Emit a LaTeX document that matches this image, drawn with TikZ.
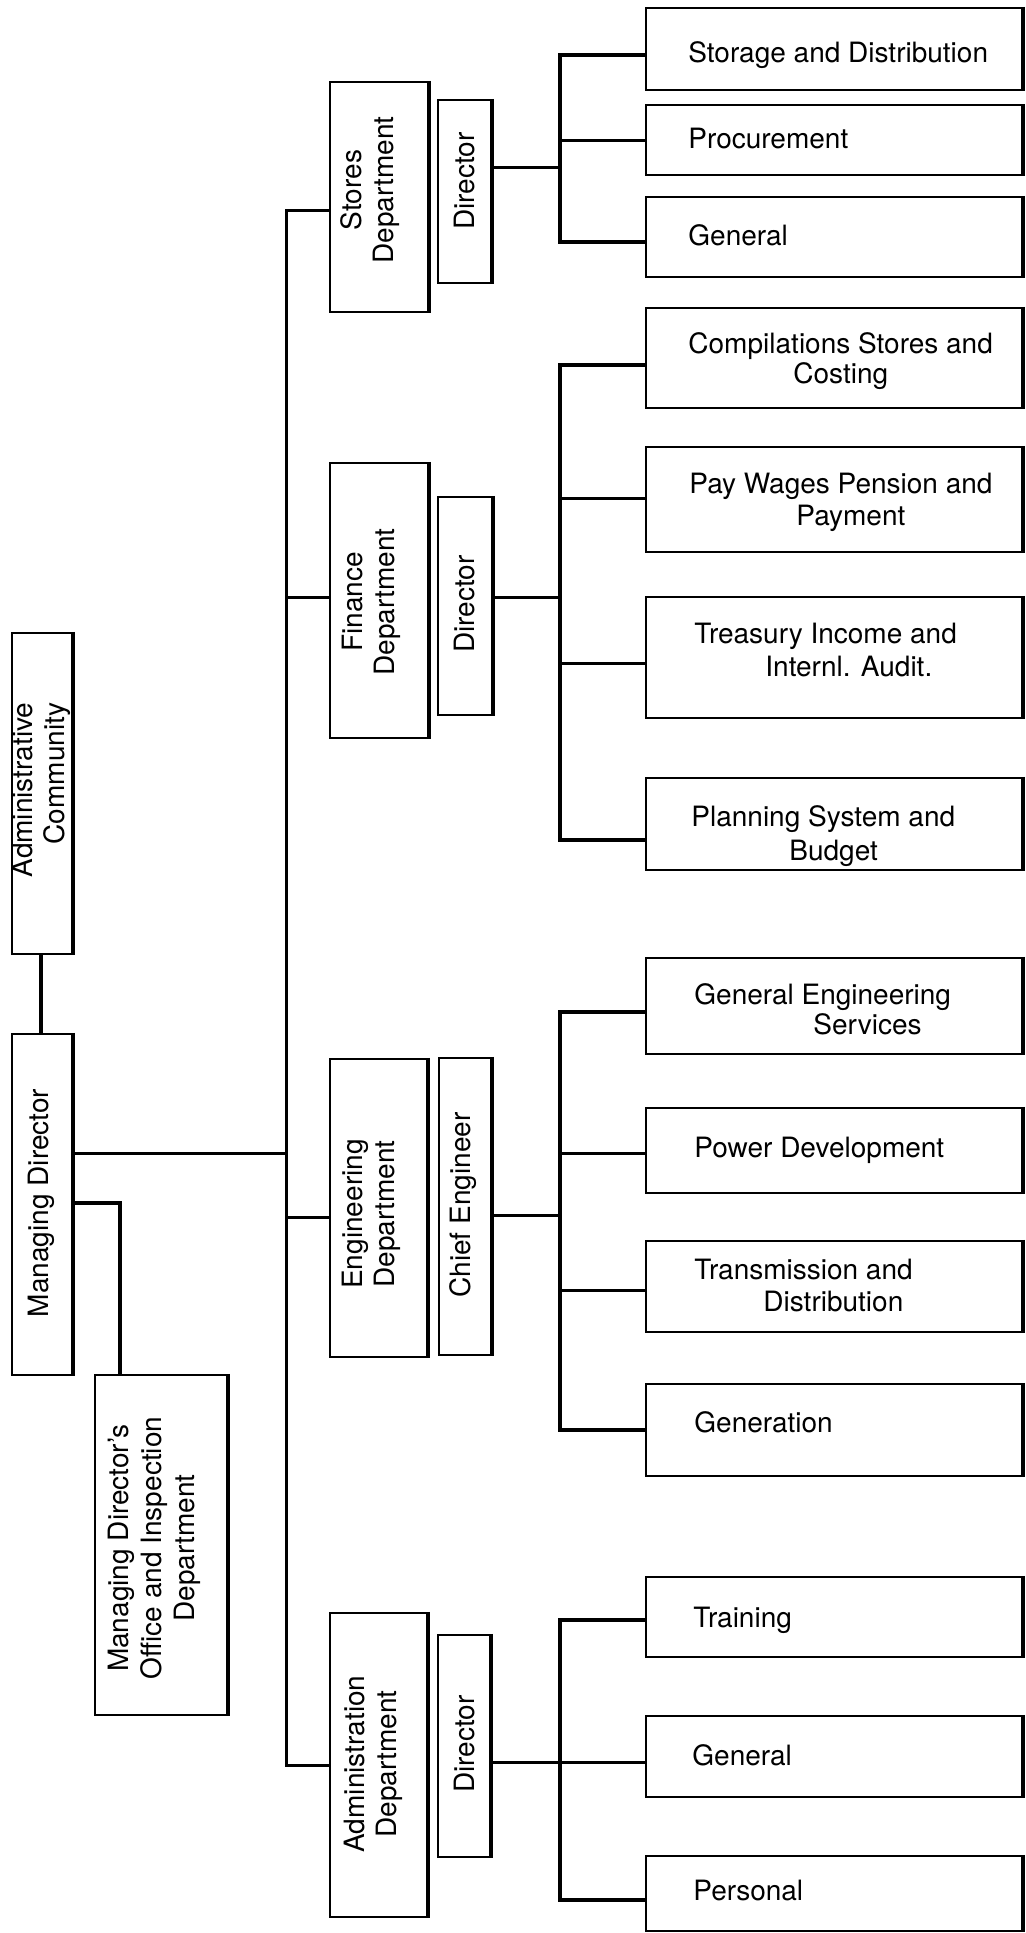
\documentclass[tikz,border=0pt]{standalone}
\usepackage{fontspec}
\setmainfont{TeX Gyre Heros}
\usetikzlibrary{fit}
\begin{document}
\begin{tikzpicture}[x=0.5pt,y=-0.5pt,
  box/.style={draw, line width=1.2pt, inner sep=0pt, fit={#1}},
  conn/.style={line width=1.5pt},
  brk/.style={line width=2pt, line join=miter},
  edge/.style={line width=2.2pt},
  rt/.style={anchor=base west, inner sep=0pt, font=\fontsize{14}{16}\selectfont},
  vt/.style={rotate=90, align=center, inner sep=0pt, font=\fontsize{14}{16}\selectfont},
  vt3/.style={rotate=90, align=center, inner sep=0pt, font=\fontsize{14}{16.5}\selectfont}
]
\useasboundingbox (0,0) rectangle (1025,1933);

% ---------- left column ----------
\node[box={(12,633) (72,954)}] (ac) {};
\node[vt, align=right] (acT) at (41,790) {Administrative\\Community};
\node[box={(12,1034) (72,1375)}] (md) {};
\node[vt] (mdT) at (41,1203) {Managing Director};
\node[box={(95,1375) (227,1715)}] (mdo) {};
\node[vt3] (mdoT) at (154,1548) {Managing Director’s\\Office and Inspection\\Department};

% ---------- departments ----------
\node[box={(330,82) (428,312)}] (sd) {};
\node[vt] (sdT) at (370,190) {Stores\\Department};
\node[box={(438,100) (491,283)}] (sdd) {};
\node[vt] (sddT) at (464,181) {Director};

\node[box={(330,463) (428,738)}] (fd) {};
\node[vt] (fdT) at (371,602) {Finance\\Department};
\node[box={(438,497) (492,715)}] (fdd) {};
\node[vt] (fddT) at (464,604) {Director};

\node[box={(330,1059) (427,1357)}] (ed) {};
\node[vt] (edT) at (371,1214) {Engineering\\Department};
\node[box={(439,1058) (491,1355)}] (edd) {};
\node[vt] (eddT) at (463,1205) {Chief Engineer};

\node[box={(330,1613) (427,1917)}] (ad) {};
\node[vt] (adT) at (373,1764) {Administration\\Department};
\node[box={(438,1635) (490,1857)}] (add) {};
\node[vt] (addT) at (464,1744) {Director};

% ---------- sections ----------
\node[box={(646,8) (1022,90)}] (s1) {};
\node[rt] (s1T) at (688,62) {Storage and Distribution};
\node[box={(646,105) (1022,175)}] (s2) {};
\node[rt] (s2T) at (688,148) {Procurement};
\node[box={(646,197) (1022,277)}] (s3) {};
\node[rt] (s3T) at (688,245) {General};

\node[box={(646,308) (1022,408)}] (f1) {};
\node[rt] (f1T) at (688,353) {Compilations Stores and};
\node[rt] (f1U) at (793,383) {Costing};
\node[box={(646,447) (1022,552)}] (f2) {};
\node[rt] (f2T) at (689,493) {Pay Wages Pension and};
\node[rt] (f2U) at (796,525) {Payment};
\node[box={(646,597) (1022,718)}] (f3) {};
\node[rt] (f3T) at (694,643) {Treasury Income and};
\node[rt] (f3U) at (765,676) {Internl. Audit.};
\node[box={(646,778) (1022,870)}] (f4) {};
\node[rt] (f4T) at (691,826) {Planning System and};
\node[rt] (f4U) at (789,860) {Budget};

\node[box={(646,958) (1022,1054)}] (e1) {};
\node[rt] (e1T) at (694,1004) {General Engineering};
\node[rt] (e1U) at (813,1034) {Services};
\node[box={(646,1108) (1022,1193)}] (e2) {};
\node[rt] (e2T) at (694,1157) {Power Development};
\node[box={(646,1241) (1022,1332)}] (e3) {};
\node[rt] (e3T) at (694,1279) {Transmission and};
\node[rt] (e3U) at (763,1311) {Distribution};
\node[box={(646,1384) (1022,1476)}] (e4) {};
\node[rt] (e4T) at (694,1432) {Generation};

\node[box={(646,1577) (1022,1657)}] (a1) {};
\node[rt] (a1T) at (693,1627) {Training};
\node[box={(646,1716) (1022,1797)}] (a2) {};
\node[rt] (a2T) at (692,1765) {General};
\node[box={(646,1856) (1022,1931)}] (a3) {};
\node[rt] (a3T) at (693,1900) {Personal};

% heavier right-hand edges, as in the print
\foreach \n in {ac,md,mdo,sd,sdd,fd,fdd,ed,edd,ad,add,s1,s2,s3,f1,f2,f3,f4,e1,e2,e3,e4,a1,a2,a3}
  \draw[edge] (\n.north east) -- (\n.south east);

% ---------- main trunk ----------
\coordinate (tS) at (286,210);
\coordinate (tF) at (286,597);
\coordinate (tE) at (286,1217);
\coordinate (tA) at (286,1765);
\coordinate (tM) at (286,1153);
\coordinate (mo) at (120,1203);
\coordinate (acx) at (41,0);

\draw[conn] (tS -| sd.west) -- (tS) -- (tA) -- (tA -| ad.west);
\draw[conn] (tF) -- (tF -| fd.west);
\draw[conn] (tE) -- (tE -| ed.west);
\draw[conn] (md.east |- tM) -- (tM);
\draw[brk] (md.east |- mo) -| (mdo.north -| mo);
\draw[brk] (ac.south -| acx) -- (md.north -| acx);

% ---------- stores group ----------
\coordinate (dS) at (560,167);
\coordinate (bs1) at (560,55);
\coordinate (bs2) at (560,140);
\coordinate (bs3) at (560,242);
\draw[conn] (sdd.east |- dS) -- (dS);
\draw[brk] (bs1 -| s1.west) -- (bs1) -- (bs3) -- (bs3 -| s3.west);
\draw[conn] (bs2) -- (bs2 -| s2.west);

% ---------- finance group ----------
\coordinate (dF) at (560,597);
\coordinate (bf1) at (560,365);
\coordinate (bf2) at (560,498);
\coordinate (bf3) at (560,663);
\coordinate (bf4) at (560,840);
\draw[conn] (fdd.east |- dF) -- (dF);
\draw[brk] (bf1 -| f1.west) -- (bf1) -- (bf4) -- (bf4 -| f4.west);
\draw[conn] (bf2) -- (bf2 -| f2.west);
\draw[conn] (bf3) -- (bf3 -| f3.west);

% ---------- engineering group ----------
\coordinate (dE) at (560,1215);
\coordinate (be1) at (560,1012);
\coordinate (be2) at (560,1153);
\coordinate (be3) at (560,1290);
\coordinate (be4) at (560,1430);
\draw[conn] (edd.east |- dE) -- (dE);
\draw[brk] (be1 -| e1.west) -- (be1) -- (be4) -- (be4 -| e4.west);
\draw[conn] (be2) -- (be2 -| e2.west);
\draw[conn] (be3) -- (be3 -| e3.west);

% ---------- administration group ----------
\coordinate (dA) at (560,1762);
\coordinate (ba1) at (560,1620);
\coordinate (ba2) at (560,1762);
\coordinate (ba3) at (560,1900);
\draw[conn] (add.east |- dA) -- (dA);
\draw[brk] (ba1 -| a1.west) -- (ba1) -- (ba3) -- (ba3 -| a3.west);
\draw[conn] (ba2) -- (ba2 -| a2.west);
\end{tikzpicture}
\end{document}
